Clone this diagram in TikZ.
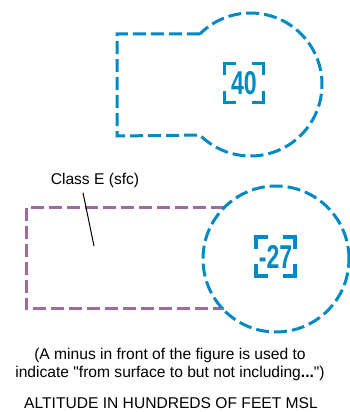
\documentclass[tikz,border=0pt]{standalone}
\usepackage{fontspec}
\setmainfont{Liberation Sans}
\usetikzlibrary{positioning, calc}
\definecolor{chartblue}{RGB}{0,137,196}
\definecolor{classpurple}{RGB}{156,108,158}

\begin{document}
\begin{tikzpicture}[x=1pt, y=1pt,
  boundary/.style={line width=3pt, dash pattern=on 13pt off 5pt},
  altbox/.style={minimum width=39pt, minimum height=39pt, inner sep=0pt,
                 text=chartblue, font=\fontsize{33}{33}\selectfont\bfseries},
  corner/.style={draw=chartblue, line width=3.5pt, line cap=butt, line join=miter},
  note/.style={font=\fontsize{15.6}{18}\selectfont, align=center}
]
\useasboundingbox (0,0) rectangle (350,412);

% upper airspace: shelf joined to the circle
\coordinate (ctop) at (250.5,327.5);
\draw[boundary, chartblue] ($(ctop)+(135:71.5)$) -- (117,378) -- (117,276)
  -- ($(ctop)+(225:71.5)$) arc[start angle=225, end angle=495, radius=71.5];
\node[altbox] (alt40) at (244,329) {\scalebox{0.7}[1]{40}};

% lower airspace: class E extension and circle
\coordinate (cbot) at (276,153);
\draw[boundary, classpurple] (223.8,204) -- (26,204) -- (26,103) -- (223.8,103);
\draw[boundary, chartblue] (cbot) circle[radius=73];
\node[altbox] (alt27) at (275.5,155.5) {\scalebox{0.7}[1]{-27}};

% bracket corners round the altitude figures
\foreach \n in {alt40, alt27}
  \foreach \c/\sx/\sy in {north west/1/-1, north east/-1/-1, south west/1/1, south east/-1/1}
    \draw[corner] ([xshift=\sx*12pt]\n.\c) -| ([yshift=\sy*12pt]\n.\c);

% label with leader
\node[font=\fontsize{15.6}{15.6}\selectfont] (lblE) at (95,232) {Class E (sfc)};
\coordinate (eTip) at (94,166);
\draw[line width=1pt] ([xshift=-12pt,yshift=-2pt]lblE.south) -- (eTip);

% explanatory notes
\node[note] (minusNote) at (170,48) {(A minus in front of the figure is used to\\
  indicate \textquotedbl from surface to but not including\textbf{...}\textquotedbl)};
\node[note] (unitNote) at (171,9) {ALTITUDE IN HUNDREDS OF FEET MSL};
\end{tikzpicture}
\end{document}
